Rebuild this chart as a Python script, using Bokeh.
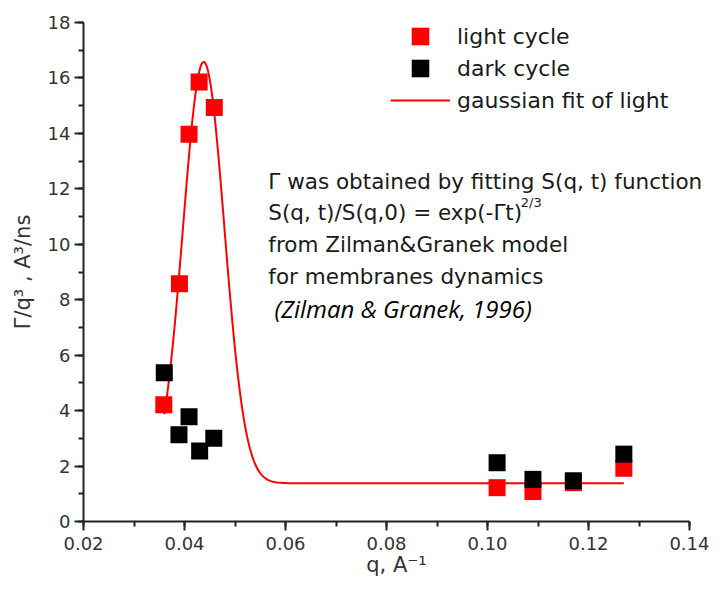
import numpy as np
from bokeh.plotting import figure
from bokeh.models import (SingleIntervalTicker, NumeralTickFormatter, Legend,
                          LegendItem, Label)
from bokeh.embed import file_html
from bokeh.resources import INLINE

# ---- data ----
q_light = [0.0359, 0.0390, 0.0409, 0.0429, 0.0459, 0.1019, 0.1090, 0.1170, 0.1270]
gamma_light = [4.21, 8.58, 13.97, 15.85, 14.93, 1.22, 1.08, 1.40, 1.92]

q_dark = [0.0360, 0.0389, 0.0409, 0.0430, 0.0458, 0.1019, 0.1090, 0.1170, 0.1270]
gamma_dark = [5.37, 3.13, 3.78, 2.54, 3.00, 2.12, 1.52, 1.47, 2.43]

# gaussian fit of light cycle (parameters)
fit_center = 0.0438
fit_width = 0.0041
fit_amplitude = 15.2
fit_offset = 1.38
fit_q_start = 0.036
fit_q_end = 0.127

x_axis_start, x_axis_end = 0.02, 0.14
y_axis_start, y_axis_end = 0, 18
x_ticks_interval = 0.02
y_ticks_interval = 2

legend_labels = ["light cycle", "dark cycle", "gaussian fit of light"]

annotation_lines = [
    "Γ was obtained by fitting S(q, t) function",
    "S(q, t)/S(q,0) = exp(-Γt)",
    "from Zilman&Granek model",
    "for membranes dynamics",
]
annotation_super = "2/3"
annotation_ref = "(Zilman & Granek, 1996)"

FONT = "DejaVu Sans"
TXT = "#1a1a1a"

W, H = 709, 581
LEFT, TOP, BOTTOM = 83, 22, 60
AXIS_PX = 606  # pixels from 0.02 to 0.14
x_pad = (W - LEFT - AXIS_PX) * (x_axis_end - x_axis_start) / AXIS_PX

p = figure(width=W, height=H, x_range=(x_axis_start, x_axis_end + x_pad),
           y_range=(y_axis_start, y_axis_end),
           output_backend="svg", toolbar_location=None,
           min_border_left=LEFT, min_border_right=0, min_border_top=TOP,
           min_border_bottom=BOTTOM)
p.xgrid.visible = False
p.ygrid.visible = False
p.outline_line_color = None
p.background_fill_color = "white"
p.border_fill_color = "white"

# fitted curve
q_fit = np.linspace(fit_q_start, fit_q_end, 500)
g_fit = fit_offset + fit_amplitude * np.exp(-(q_fit - fit_center) ** 2 / (2 * fit_width ** 2))
fit_r = p.line(q_fit, g_fit, line_color="#ff0000", line_width=2)

light_r = p.scatter(q_light, gamma_light, marker="square", size=17,
                    fill_color="#ff0000", line_color="#ff0000", line_width=0)
dark_r = p.scatter(q_dark, gamma_dark, marker="square", size=17,
                   fill_color="#000000", line_color="#000000", line_width=0)

# axes
for ax in (p.xaxis[0], p.yaxis[0]):
    ax.axis_line_width = 2
    ax.axis_line_color = "#222222"
    ax.major_tick_line_width = 2
    ax.major_tick_line_color = "#222222"
    ax.minor_tick_line_width = 2
    ax.minor_tick_line_color = "#222222"
    ax.major_tick_out = 9
    ax.major_tick_in = 0
    ax.minor_tick_out = 5
    ax.minor_tick_in = 0
    ax.major_label_text_font = FONT
    ax.major_label_text_font_size = "18px"
    ax.major_label_text_color = "#333333"
    ax.axis_label_text_font = FONT
    ax.axis_label_text_font_style = "normal"
    ax.axis_label_text_color = "#333333"

p.xaxis.bounds = (x_axis_start, x_axis_end)
p.xaxis.ticker = SingleIntervalTicker(interval=x_ticks_interval, num_minor_ticks=2)
p.xaxis.formatter = NumeralTickFormatter(format="0.00")
p.xaxis.major_label_standoff = 6
p.xaxis.axis_label = "q, A⁻¹"
p.xaxis.axis_label_text_font_size = "21px"
p.xaxis.axis_label_standoff = 0

p.yaxis.ticker = SingleIntervalTicker(interval=y_ticks_interval, num_minor_ticks=2)
p.yaxis.formatter = NumeralTickFormatter(format="0")
p.yaxis.major_label_standoff = 4
p.yaxis.axis_label = "Γ/q³ , A³/ns"
p.yaxis.axis_label_text_font_size = "21px"
p.yaxis.axis_label_standoff = 10

# legend: one box per row so that the rows sit close together
renderers = [light_r, dark_r, fit_r]
row_bottoms = [463, 431, 399]
for lab, rend, yb in zip(legend_labels, renderers, row_bottoms):
    lg = Legend(items=[LegendItem(label=lab, renderers=[rend])],
                location=(307, yb), glyph_width=60, glyph_height=44,
                label_standoff=7, label_text_font=FONT,
                label_text_font_size="22px", label_text_color=TXT,
                padding=0, margin=0, border_line_alpha=0,
                background_fill_alpha=0)
    p.add_layout(lg, "center")

# annotation text
line_y = [12.28, 11.13, 9.98, 8.83]
for txt, yy in zip(annotation_lines, line_y):
    p.add_layout(Label(x=0.0566, y=yy, text=txt, text_font=FONT,
                       text_font_size="21.5px", text_color=TXT,
                       text_baseline="alphabetic"))
p.add_layout(Label(x=0.1066, y=11.52, text=annotation_super, text_font=FONT,
                   text_font_size="13px", text_color=TXT,
                   text_baseline="alphabetic"))
p.add_layout(Label(x=0.0578, y=7.67, text=annotation_ref, text_font="Open Sans",
                   text_font_size="24px", text_font_style="italic",
                   text_color="#000000", text_baseline="alphabetic"))

open("out.html", "w").write(file_html(p, INLINE))
